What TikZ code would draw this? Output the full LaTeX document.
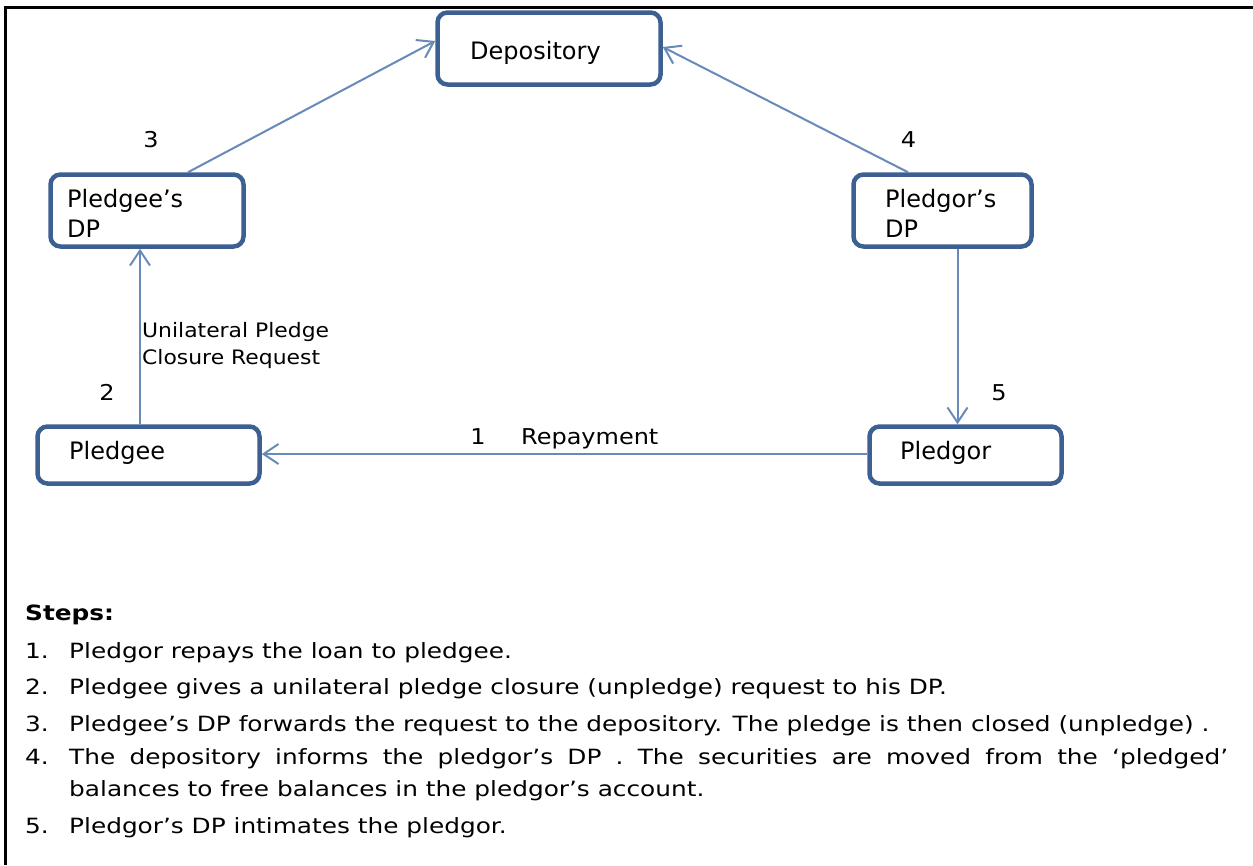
\documentclass[tikz,border=0pt]{standalone}
\usepackage{fontspec}
\setmainfont{DejaVu Sans}
\newfontfamily\stepfont[FakeStretch=1.18]{DejaVu Sans}
\newfontfamily\lblfont[FakeStretch=1.1]{DejaVu Sans}
\usetikzlibrary{arrows.meta,calc}
\definecolor{boxblue}{RGB}{60,96,146}
\definecolor{arrowblue}{RGB}{104,138,186}
\begin{document}
\begin{tikzpicture}[x=1pt,y=-1pt,
  box/.style={draw=boxblue,line width=4.5pt,rounded corners=10pt,fill=white,inner sep=0pt},
  boxtxt/.style={font=\fontsize{24}{30}\selectfont,inner sep=0pt,anchor=base west,align=left},
  conn/.style={draw=arrowblue,line width=2pt,-{Straight Barb[length=15pt,width=20pt]}},
  lbl/.style={font=\lblfont\fontsize{21.8}{27}\selectfont,inner sep=0pt,anchor=base},
  sublbl/.style={font=\lblfont\fontsize{19.9}{27}\selectfont,inner sep=0pt,anchor=base west,align=left},
  stp/.style={font=\stepfont\fontsize{21}{36}\selectfont,inner sep=0pt,anchor=base west}]
\useasboundingbox (0,0) rectangle (1253,865);
\fill[white] (0,0) rectangle (1253,865);
% frame
\draw[line width=3pt] (1253,7.5) -- (5.5,7.5) -- (5.5,865);
% boxes
\node[box,minimum width=223pt,minimum height=72pt] (dep) at (549,48.5) {};
\node[box,minimum width=193pt,minimum height=72pt] (pdp) at (147,210.5) {};
\node[box,minimum width=178pt,minimum height=72pt] (rdp) at (942.5,210.5) {};
\node[box,minimum width=222pt,minimum height=57pt] (pe) at (148.5,455) {};
\node[box,minimum width=192pt,minimum height=57pt] (pr) at (965.5,455) {};
% box texts
\node[boxtxt] (deptxt) at (470,59) {Depository};
\node[boxtxt] (pdptxt) at (67,237) {Pledgee’s\\DP};
\node[boxtxt] (rdptxt) at (885,237) {Pledgor’s\\DP};
\node[boxtxt] (petxt) at (69,459) {Pledgee};
\node[boxtxt] (prtxt) at (900,459) {Pledgor};
% connectors
\draw[conn] ($(pdp.north)+(41,0)$) -- ($(dep.west)+(0,-7.5)$);
\draw[conn] ($(rdp.north)+(-34.5,0)$) -- ($(dep.east)+(0,-1.5)$);
\draw[conn] ($(pe.north)+(-8.5,0)$) -- ($(pdp.south)+(-7,0)$);
\draw[conn] ($(rdp.south)+(15,0)$) -- ($(pr.north)+(-8,0)$);
\draw[conn] ($(pr.west)+(0,-1)$) -- ($(pe.east)+(0,-1)$);
% labels
\node[lbl] (l3) at (151,147) {3};
\node[lbl] (l4) at (908.5,147) {4};
\node[lbl] (l2) at (107,400) {2};
\node[lbl] (l5) at (999,400) {5};
\node[lbl] (l1) at (478,444) {1};
\node[lbl,anchor=base west] (lrep) at (521,444) {Repayment};
\node[sublbl] (lreq) at (142,364) {Unilateral Pledge\\Closure Request};
% steps
\node[stp,font=\stepfont\bfseries\fontsize{21}{36}\selectfont] (steps) at (25,620) {Steps:};
\node[stp] (n1) at (25,658) {1.};
\node[stp] (s1) at (69,658) {Pledgor repays the loan to pledgee.};
\node[stp] (n2) at (25,694) {2.};
\node[stp] (s2) at (69,694) {Pledgee gives a unilateral pledge closure (unpledge) request to his DP.};
\node[stp] (n3) at (25,731) {3.};
\node[stp] (s3) at (69,731) {Pledgee’s DP forwards the request to the depository. The pledge is then closed (unpledge) .};
\node[stp] (n4) at (25,764) {4.};
\node[stp] (s4) at (69,764) {\makebox[1159pt][s]{The depository informs the pledgor’s DP . The securities are moved from the ‘pledged’}};
\node[stp] (s4b) at (69,796) {balances to free balances in the pledgor’s account.};
\node[stp] (n5) at (25,833) {5.};
\node[stp] (s5) at (69,833) {Pledgor’s DP intimates the pledgor.};
\end{tikzpicture}
\end{document}
